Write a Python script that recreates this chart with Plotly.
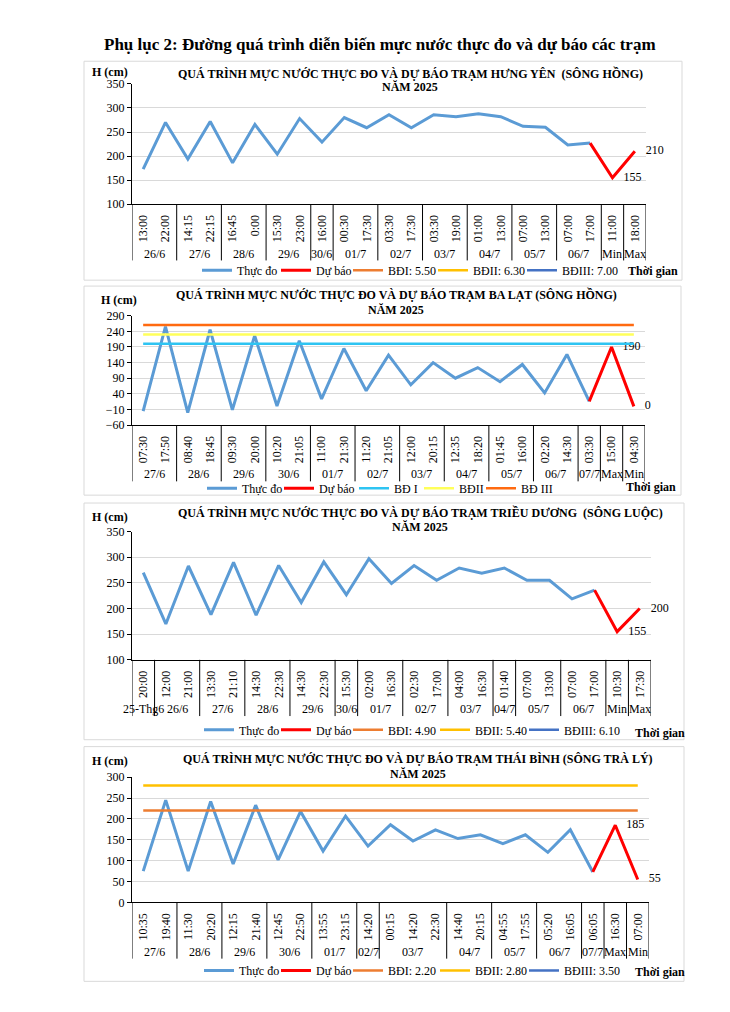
import plotly.graph_objects as go

W, H = 730, 1012
FONT = "Liberation Serif"

# ---------------- DATA ----------------
# Panel 1: Hưng Yên (Sông Hồng)
hy_dates = ["26/6", "26/6", "27/6", "27/6", "28/6", "28/6", "29/6", "29/6", "30/6",
            "01/7", "01/7", "02/7", "02/7", "03/7", "03/7", "04/7", "04/7",
            "05/7", "05/7", "06/7", "06/7", "Min", "Max"]
hy_times = ["13:00", "22:00", "14:15", "22:15", "16:45", "0:00", "15:30", "23:00", "16:00",
            "00:30", "17:30", "03:30", "17:30", "03:30", "19:00", "01:00", "13:00",
            "07:00", "13:00", "07:00", "17:00", "11:00", "18:00"]
hy_obs = [173, 270, 194, 272, 186, 266, 204, 278, 229, 280, 259, 286, 259, 286, 282,
          288, 282, 262, 260, 223, 227, None, None]
hy_fc = [None, None, None, None, None, None, None, None, None, None, None, None, None,
         None, None, None, None, None, None, None, 227, 155, 210]
hy_fc_text = ["", "", "", "", "", "", "", "", "", "", "", "", "", "", "", "", "", "", "",
              "", "", "155", "210"]
hy_level_names = ["BĐI: 5.50", "BĐII: 6.30", "BĐIII: 7.00"]
hy_level_values = [550, 630, 700]

# Panel 2: Ba Lạt (Sông Hồng)
bl_dates = ["27/6", "27/6", "28/6", "28/6", "29/6", "29/6", "30/6", "30/6", "01/7", "01/7",
            "02/7", "02/7", "03/7", "03/7", "04/7", "04/7", "05/7", "05/7", "06/7", "06/7",
            "07/7", "Max", "Min"]
bl_times = ["07:30", "17:50", "08:40", "18:45", "09:30", "20:00", "10:20", "21:05", "11:00",
            "21:30", "11:20", "21:05", "12:00", "20:15", "12:35", "18:20", "01:45", "16:00",
            "02:20", "14:30", "03:30", "15:00", "04:30"]
bl_obs = [-15, 255, -20, 245, -11, 226, 1, 210, 24, 185, 50, 164, 69, 140, 90, 124, 79, 134,
          43, 166, 16, None, None]
bl_fc = [None, None, None, None, None, None, None, None, None, None, None, None, None, None,
         None, None, None, None, None, None, 16, 190, 0]
bl_fc_text = ["", "", "", "", "", "", "", "", "", "", "", "", "", "", "", "", "", "", "", "",
              "", "190", "0"]
bl_level_names = ["BĐ I", "BĐII", "BĐ III"]
bl_level_values = [200, 230, 260]

# Panel 3: Triều Dương (Sông Luộc)
td_dates = ["25-Thg6", "26/6", "26/6", "27/6", "27/6", "28/6", "28/6", "29/6", "29/6", "30/6",
            "01/7", "01/7", "02/7", "02/7", "03/7", "03/7", "04/7", "05/7", "05/7",
            "06/7", "06/7", "Min", "Max"]
td_times = ["20:00", "12:00", "21:00", "13:30", "21:10", "14:30", "22:30", "14:30", "22:30",
            "15:30", "02:00", "16:30", "02:30", "17:00", "04:00", "16:30", "01:40", "07:00",
            "13:00", "07:00", "17:00", "10:30", "17:30"]
td_obs = [270, 170, 283, 188, 290, 187, 284, 212, 291, 227, 297, 249, 284, 255, 279, 269,
          279, 255, 255, 219, 236, None, None]
td_fc = [None, None, None, None, None, None, None, None, None, None, None, None, None, None,
         None, None, None, None, None, None, 236, 155, 200]
td_fc_text = ["", "", "", "", "", "", "", "", "", "", "", "", "", "", "", "", "", "", "", "",
              "", "155", "200"]
td_level_names = ["BĐI: 4.90", "BĐII: 5.40", "BĐIII: 6.10"]
td_level_values = [490, 540, 610]

# Panel 4: Thái Bình (Sông Trà Lý)
tb_dates = ["27/6", "27/6", "28/6", "28/6", "29/6", "29/6", "30/6", "30/6", "01/7", "01/7",
            "02/7", "03/7", "03/7", "03/7", "04/7", "04/7", "05/7", "05/7", "06/7", "06/7",
            "07/7", "Max", "Min"]
tb_times = ["10:35", "19:40", "11:30", "20:20", "12:15", "21:40", "12:45", "22:50", "13:55",
            "23:15", "14:20", "00:15", "14:20", "22:30", "14:40", "20:15", "04:55", "17:55",
            "05:20", "16:05", "06:05", "16:30", "07:00"]
tb_obs = [75, 245, 75, 242, 92, 233, 102, 218, 123, 207, 135, 186, 147, 174, 153, 162, 141,
          162, 120, 174, 73, None, None]
tb_fc = [None, None, None, None, None, None, None, None, None, None, None, None, None, None,
         None, None, None, None, None, None, 73, 185, 55]
tb_fc_text = ["", "", "", "", "", "", "", "", "", "", "", "", "", "", "", "", "", "", "", "",
              "", "185", "55"]
tb_level_names = ["BĐI: 2.20", "BĐII: 2.80", "BĐIII: 3.50"]
tb_level_values = [220, 280, 350]

MAIN_TITLE = "Phụ lục 2: Đường quá trình diễn biến mực nước thực đo và dự báo các trạm"
YEAR_LINE = "NĂM 2025"

# ---------------- STYLE / LAYOUT ----------------
panels = [
    dict(dates=hy_dates, times=hy_times, obs=hy_obs, fc=hy_fc, fc_text=hy_fc_text,
         lnames=hy_level_names, lvals=hy_level_values,
         lcolors=["#ED7D31", "#FFC000", "#4472C4"],
         title="QUÁ TRÌNH MỰC NƯỚC THỰC ĐO VÀ DỰ BÁO TRẠM HƯNG YÊN  (SÔNG HỒNG)",
         title_pos=(410, 67, 81), yrange=[100, 350], tick0=100,
         plot=(132, 646, 78, 200), box=(84, 682, 55, 277),
         hcm=(110, 66), legend=(202, 267), lwidths=[34, 27, 40, 44, 60], tg=(653, 268)),
    dict(dates=bl_dates, times=bl_times, obs=bl_obs, fc=bl_fc, fc_text=bl_fc_text,
         lnames=bl_level_names, lvals=bl_level_values,
         lcolors=["#2EC4F2", "#FFFF5A", "#FF6A10"],
         title="QUÁ TRÌNH MỰC NƯỚC THỰC ĐO VÀ DỰ BÁO TRẠM BA LẠT (SÔNG HỒNG)",
         title_pos=(396, 292, 307), yrange=[-60, 290], tick0=-60,
         plot=(132, 645, 313, 424), box=(84, 681, 283, 495),
         hcm=(119, 297), legend=(207, 488), lwidths=[32, 30, 20, 17, 40], tg=(651, 487)),
    dict(dates=td_dates, times=td_times, obs=td_obs, fc=td_fc, fc_text=td_fc_text,
         lnames=td_level_names, lvals=td_level_values,
         lcolors=["#ED7D31", "#FFC000", "#4472C4"],
         title="QUÁ TRÌNH MỰC NƯỚC THỰC ĐO VÀ DỰ BÁO TRẠM TRIỀU DƯƠNG  (SÔNG LUỘC)",
         title_pos=(420, 513, 527), yrange=[100, 350], tick0=100,
         plot=(132, 651, 532, 662), box=(84, 684, 503, 743),
         hcm=(110, 517), legend=(204, 733), lwidths=[32, 27, 42, 44, 60], tg=(660, 736)),
    dict(dates=tb_dates, times=tb_times, obs=tb_obs, fc=tb_fc, fc_text=tb_fc_text,
         lnames=tb_level_names, lvals=tb_level_values,
         lcolors=["#ED7D31", "#FFC000", "#4472C4"],
         title="QUÁ TRÌNH MỰC NƯỚC THỰC ĐO VÀ DỰ BÁO TRẠM THÁI BÌNH (SÔNG TRÀ LÝ)",
         title_pos=(418, 763, 778), yrange=[0, 300], tick0=0,
         plot=(132, 649, 781, 908), box=(84, 684, 750, 988),
         hcm=(110, 765), legend=(204, 977), lwidths=[32, 27, 42, 44, 60], tg=(660, 979)),
]

LEGEND_OFFSET = 5      # px from legend box left edge to first symbol line
GROUP_LABEL_DY = 50    # px below axis line to the date-group labels
DIVIDER_DY = 57        # px below axis line where group dividers end


def fx(p):
    return p / W


def fy(p):
    return 1 - p / H


def group_spans(dates):
    spans = []
    start = 0
    for i in range(1, len(dates) + 1):
        if i == len(dates) or dates[i] != dates[start]:
            spans.append((dates[start], start, i - 1))
            start = i
    return spans


fig = go.Figure()
annotations, shapes = [], []
layout = dict(
    width=W, height=H, margin=dict(l=0, r=0, t=0, b=0),
    paper_bgcolor="white", plot_bgcolor="white",
    font=dict(family=FONT, size=12, color="black"),
)

annotations.append(dict(
    text="<b>" + MAIN_TITLE + "</b>",
    x=fx(380), y=fy(38), xref="paper", yref="paper", showarrow=False,
    xanchor="center", yanchor="middle", font=dict(family=FONT, size=17, color="black")))

for i, p in enumerate(panels, start=1):
    sfx = "" if i == 1 else str(i)
    xa, ya = "x" + sfx, "y" + sfx
    leg = "legend" + sfx
    n = len(p["times"])
    keys = [d + " " + t for d, t in zip(p["dates"], p["times"])]
    lw = p["lwidths"]

    fig.add_trace(go.Scatter(
        x=keys, y=p["obs"], mode="lines", name="Thực đo",
        line=dict(color="#5B9BD5", width=3), xaxis=xa, yaxis=ya, legend=leg,
        legendwidth=lw[0], hoverinfo="skip"))
    fig.add_trace(go.Scatter(
        x=keys, y=p["fc"], mode="lines+markers+text", name="Dự báo",
        text=p["fc_text"], textposition="middle right",
        textfont=dict(family=FONT, size=12, color="black"),
        marker=dict(size=16, color="rgba(0,0,0,0)"), cliponaxis=False,
        line=dict(color="#FF0000", width=3), xaxis=xa, yaxis=ya, legend=leg,
        legendwidth=lw[1], hoverinfo="skip"))
    for k, (name, val, col) in enumerate(zip(p["lnames"], p["lvals"], p["lcolors"])):
        fig.add_trace(go.Scatter(
            x=keys, y=[val] * n, mode="lines", name=name,
            line=dict(color=col, width=2.5), xaxis=xa, yaxis=ya, legend=leg,
            legendwidth=lw[2 + k], hoverinfo="skip"))

    x0, x1, y0, y1 = p["plot"]
    layout["xaxis" + sfx] = dict(
        type="category", categoryorder="array", categoryarray=keys,
        tickmode="array", tickvals=keys, ticktext=p["times"],
        domain=[fx(x0), fx(x1)], anchor=ya, range=[-0.5, n - 0.5],
        showline=True, linecolor="black", linewidth=1, showgrid=False,
        ticks="outside", ticklen=5, tickcolor="rgba(0,0,0,0)", tickangle=-90,
        tickfont=dict(family=FONT, size=12, color="black"), fixedrange=True)
    layout["yaxis" + sfx] = dict(
        domain=[fy(y1), fy(y0)], anchor=xa, range=p["yrange"], tick0=p["tick0"], dtick=50,
        showgrid=True, gridcolor="#D9D9D9", gridwidth=1, zeroline=False,
        showline=True, linecolor="black", linewidth=1, ticks="outside", ticklen=4,
        tickcolor="black", tickfont=dict(family=FONT, size=12, color="black"),
        fixedrange=True)

    # date groups under the time labels
    spans = group_spans(p["dates"])
    for label, s, e in spans:
        annotations.append(dict(
            text=label, x=(s + e) / 2, xref=xa, y=fy(y1 + GROUP_LABEL_DY), yref="paper",
            showarrow=False, xanchor="center", yanchor="middle",
            font=dict(family=FONT, size=12, color="black")))
    bounds = [s - 0.5 for _, s, _ in spans] + [n - 0.5]
    for b in bounds:
        shapes.append(dict(
            type="line", xref=xa, yref="paper", x0=b, x1=b,
            y0=fy(y1), y1=fy(y1 + DIVIDER_DY), line=dict(color="black", width=1)))

    lx, ly = p["legend"]
    layout[leg] = dict(
        orientation="h", x=fx(lx - LEGEND_OFFSET), y=fy(ly), xanchor="left", yanchor="middle",
        xref="paper", yref="paper", bgcolor="rgba(0,0,0,0)",
        font=dict(family=FONT, size=12, color="black"), itemwidth=30,
        traceorder="normal")

    bx0, bx1, by0, by1 = p["box"]
    shapes.append(dict(
        type="rect", xref="paper", yref="paper", x0=fx(bx0), x1=fx(bx1), y0=fy(by1), y1=fy(by0),
        line=dict(color="#D9D9D9", width=1), layer="below"))

    tx, ty1, ty2 = p["title_pos"]
    for txt, ty in ((p["title"], ty1), (YEAR_LINE, ty2)):
        annotations.append(dict(
            text="<b>" + txt + "</b>", x=fx(tx), y=fy(ty), xref="paper", yref="paper",
            showarrow=False, xanchor="center", yanchor="middle",
            font=dict(family=FONT, size=12, color="black")))
    hx, hy = p["hcm"]
    annotations.append(dict(
        text="<b>H (cm)</b>", x=fx(hx), y=fy(hy), xref="paper", yref="paper",
        showarrow=False, xanchor="center", yanchor="middle",
        font=dict(family=FONT, size=12, color="black")))
    gx, gy = p["tg"]
    annotations.append(dict(
        text="<b>Thời gian</b>", x=fx(gx), y=fy(gy), xref="paper", yref="paper",
        showarrow=False, xanchor="center", yanchor="middle",
        font=dict(family=FONT, size=12, color="black")))

layout["annotations"] = annotations
layout["shapes"] = shapes
fig.update_layout(**layout)
fig.write_html("out.html", config={"displayModeBar": False},
               post_script="document.body.style.margin='0';document.body.style.overflow='hidden';")
